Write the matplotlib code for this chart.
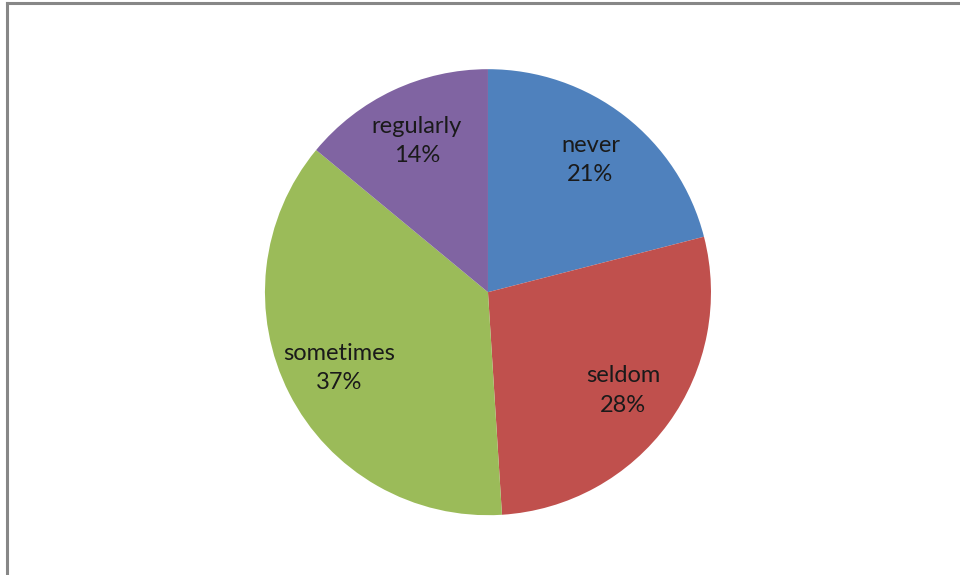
import matplotlib
matplotlib.use("Agg")
import matplotlib.pyplot as plt
from matplotlib.lines import Line2D

# data
labels = ["never", "seldom", "sometimes", "regularly"]
shares = [21, 28, 37, 14]
colors = ["#4F81BD", "#C0504D", "#9BBB59", "#8064A2"]

fig = plt.figure(figsize=(9.6, 5.75), dpi=100)
ax = fig.add_axes([0.276, 0.104, 0.4646, 0.7757])

texts = [f"{lab}\n{v}%" for lab, v in zip(labels, shares)]
wedges, txt = ax.pie(shares, labels=texts, colors=colors, startangle=90,
                     counterclock=False, labeldistance=0.75,
                     textprops=dict(fontsize=17, family=["Lato", "DejaVu Sans"],
                                    color="#1a1a1a", ha="center", va="center",
                                    linespacing=1.5))
ax.set_aspect("equal")
ax.set_xlim(-1, 1)
ax.set_ylim(-1, 1)

# grey frame (only top and left edges are visible)
fig.add_artist(Line2D([7/960, 7/960], [0, 1 - 3/575], transform=fig.transFigure,
                      color="#878787", lw=2.2))
fig.add_artist(Line2D([7/960, 1], [1 - 3/575, 1 - 3/575], transform=fig.transFigure,
                      color="#878787", lw=2.2))

fig.savefig("out.png", dpi=100)
